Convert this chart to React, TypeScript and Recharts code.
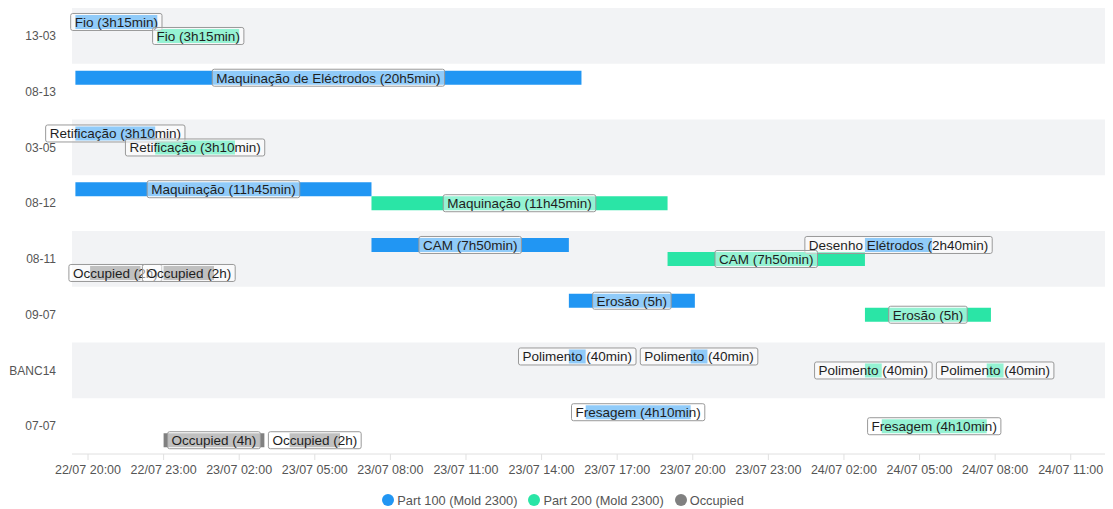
import React from 'react';
import {
  BarChart,
  Bar,
  XAxis,
  YAxis,
  ReferenceArea,
  LabelList,
  Legend
} from 'recharts';

const FONT = '"Liberation Sans", Arial, sans-serif';

const categories = ['13-03', '08-13', '03-05', '08-12', '08-11', '09-07', 'BANC14', '07-07'];

interface Task {
  row: string;
  name: string;
  start: string;
  end: string;
}

const part100Tasks: Task[] = [
  { row: '13-03', name: 'Fio', start: '22/07 19:30', end: '22/07 22:45' },
  { row: '08-13', name: 'Maquinação de Eléctrodos', start: '22/07 19:30', end: '23/07 15:35' },
  { row: '03-05', name: 'Retificação', start: '22/07 19:30', end: '22/07 22:40' },
  { row: '08-12', name: 'Maquinação', start: '22/07 19:30', end: '23/07 07:15' },
  { row: '08-11', name: 'CAM', start: '23/07 07:15', end: '23/07 15:05' },
  { row: '08-11', name: 'Desenho Elétrodos', start: '24/07 02:50', end: '24/07 05:30' },
  { row: '09-07', name: 'Erosão', start: '23/07 15:05', end: '23/07 20:05' },
  { row: 'BANC14', name: 'Polimento', start: '23/07 15:05', end: '23/07 15:45' },
  { row: 'BANC14', name: 'Polimento', start: '23/07 19:55', end: '23/07 20:35' },
  { row: '07-07', name: 'Fresagem', start: '23/07 15:45', end: '23/07 19:55' }
];

const part200Tasks: Task[] = [
  { row: '13-03', name: 'Fio', start: '22/07 22:45', end: '23/07 02:00' },
  { row: '03-05', name: 'Retificação', start: '22/07 22:40', end: '23/07 01:50' },
  { row: '08-12', name: 'Maquinação', start: '23/07 07:15', end: '23/07 19:00' },
  { row: '08-11', name: 'CAM', start: '23/07 19:00', end: '24/07 02:50' },
  { row: '09-07', name: 'Erosão', start: '24/07 02:50', end: '24/07 07:50' },
  { row: 'BANC14', name: 'Polimento', start: '24/07 02:50', end: '24/07 03:30' },
  { row: 'BANC14', name: 'Polimento', start: '24/07 07:40', end: '24/07 08:20' },
  { row: '07-07', name: 'Fresagem', start: '24/07 03:30', end: '24/07 07:40' }
];

const occupiedTasks: Task[] = [
  { row: '08-11', name: 'Occupied', start: '22/07 20:05', end: '22/07 22:05' },
  { row: '08-11', name: 'Occupied', start: '22/07 23:00', end: '23/07 01:00' },
  { row: '07-07', name: 'Occupied', start: '22/07 23:00', end: '23/07 03:00' },
  { row: '07-07', name: 'Occupied', start: '23/07 04:00', end: '23/07 06:00' }
];

const seriesKeys = ['p100', 'p200', 'occ'];
const seriesNames = ['Part 100 (Mold 2300)', 'Part 200 (Mold 2300)', 'Occupied'];
const seriesColors = ['#2196f3', '#2ae5a6', '#808080'];
const seriesTasks = [part100Tasks, part200Tasks, occupiedTasks];

// hours since 22/07 00:00
const timeTicks = [20, 23, 26, 29, 32, 35, 38, 41, 44, 47, 50, 53, 56, 59];
const timeDomain = [19.365, 60.36];

const toHours = (s: string) => {
  const [date, time] = s.split(' ');
  const day = parseInt(date.split('/')[0], 10);
  const [h, m] = time.split(':').map((v) => parseInt(v, 10));
  return (day - 22) * 24 + h + m / 60;
};

const formatDuration = (hours: number) => {
  const total = Math.round(hours * 60);
  const h = Math.floor(total / 60);
  const m = total % 60;
  if (h === 0) return `${m}min`;
  if (m === 0) return `${h}h`;
  return `${h}h${m}min`;
};

const formatTick = (v: number) => {
  const day = 22 + Math.floor(v / 24);
  const hour = v % 24;
  return `${day}/07 ${String(hour).padStart(2, '0')}:00`;
};

const data = categories.map((row) => {
  const entry: Record<string, number | string> = { row };
  seriesKeys.forEach((key, si) => {
    const list = seriesTasks[si]
      .filter((t) => t.row === row)
      .map((t) => ({ name: t.name, s: toHours(t.start), e: toHours(t.end) }))
      .sort((a, b) => a.s - b.s);
    let cursor = 0;
    for (let i = 0; i < 2; i++) {
      const t = list[i];
      if (t) {
        entry[`${key}_g${i}`] = t.s - cursor;
        entry[`${key}_t${i}`] = t.e - t.s;
        entry[`${key}_l${i}`] = `${t.name} (${formatDuration(t.e - t.s)})`;
        cursor = t.e;
      } else {
        entry[`${key}_g${i}`] = 0;
        entry[`${key}_t${i}`] = 0;
        entry[`${key}_l${i}`] = '';
      }
    }
  });
  return entry;
});

const LABEL_FONT_SIZE = 13.5;

let measureCtx: CanvasRenderingContext2D | null = null;
const measure = (text: string) => {
  if (!measureCtx) measureCtx = document.createElement('canvas').getContext('2d');
  if (!measureCtx) return text.length * 7;
  measureCtx.font = `${LABEL_FONT_SIZE}px ${FONT}`;
  return measureCtx.measureText(text).width;
};

const TaskLabel = (props: any) => {
  const { value } = props;
  if (!value) return null;
  const vb = props.viewBox && props.viewBox.width !== undefined ? props.viewBox : props;
  const cx = Number(vb.x) + Number(vb.width) / 2;
  const cy = Number(vb.y) + Number(vb.height) / 2;
  const w = measure(String(value)) + 8;
  const h = 17;
  return (
    <g>
      <rect
        x={cx - w / 2}
        y={cy - h / 2}
        width={w}
        height={h}
        rx={2}
        fill="rgba(255,255,255,0.5)"
        stroke="#999"
      />
      <text
        x={cx}
        y={cy + 0.5}
        textAnchor="middle"
        dominantBaseline="central"
        fontSize={LABEL_FONT_SIZE}
        fill="#1e1e1e"
        fontFamily={FONT}
      >
        {value}
      </text>
    </g>
  );
};

const ChartLegend = () => (
  <div style={{ paddingTop: 8, paddingLeft: 24, display: 'flex', justifyContent: 'center', fontFamily: FONT }}>
    {seriesNames.map((name, i) => (
      <div key={name} style={{ display: 'flex', alignItems: 'center', height: 16, marginRight: 11 }}>
        <span
          style={{
            width: 12,
            height: 12,
            borderRadius: 6,
            background: seriesColors[i],
            marginRight: 3
          }}
        />
        <span style={{ fontSize: 12.8, color: '#555' }}>{name}</span>
      </div>
    ))}
  </div>
);

export default function App() {
  return (
    <BarChart
      width={1097}
      height={500}
      data={data}
      layout="vertical"
      margin={{ top: 0, right: 0, bottom: 0, left: 0 }}
      barCategoryGap="12.5%"
      barGap={0}
      style={{ fontFamily: FONT }}
    >
      {categories.map((c, i) =>
        i % 2 === 0 ? (
          <ReferenceArea key={c} y1={c} y2={c} fill="#f2f3f5" fillOpacity={1} stroke="none" />
        ) : null
      )}
      <XAxis
        type="number"
        domain={timeDomain}
        allowDataOverflow
        ticks={timeTicks}
        tickFormatter={formatTick}
        height={30}
        stroke="#e0e0e0"
        tick={{ fill: '#555', fontSize: 12.5 }}
        tickMargin={5}
        interval={0}
      />
      <YAxis
        type="category"
        dataKey="row"
        width={64}
        axisLine={false}
        tickLine={false}
        tickMargin={10}
        tick={{ fill: '#555', fontSize: 12 }}
      />
      <Legend verticalAlign="bottom" content={() => <ChartLegend />} />
      {seriesKeys.map((key, si) =>
        [0, 1].flatMap((i) => [
          <Bar
            key={`${key}_g${i}`}
            dataKey={`${key}_g${i}`}
            stackId={key}
            fill="transparent"
            isAnimationActive={false}
          />,
          <Bar
            key={`${key}_t${i}`}
            dataKey={`${key}_t${i}`}
            stackId={key}
            fill={seriesColors[si]}
            name={seriesNames[si]}
            isAnimationActive={false}
          >
            <LabelList dataKey={`${key}_l${i}`} content={TaskLabel} />
          </Bar>
        ])
      )}
    </BarChart>
  );
}
